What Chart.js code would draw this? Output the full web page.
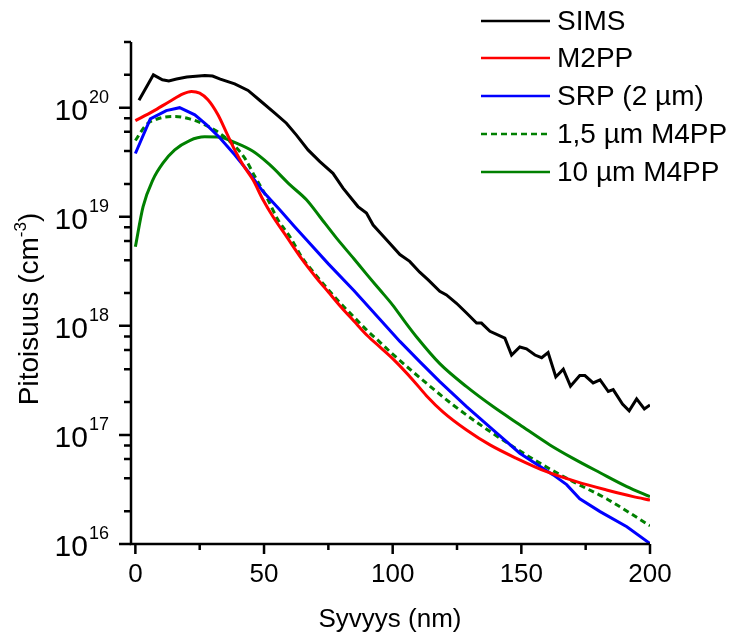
<!DOCTYPE html>
<html>
<head>
<meta charset="utf-8">
<script src="https://cdn.jsdelivr.net/npm/chart.js@4.4.1/dist/chart.umd.min.js"></script>
<style>
  html, body { margin: 0; padding: 0; background: #fff; }
  #wrap { width: 743px; height: 632px; }
</style>
</head>
<body>
<div id="wrap"><canvas id="depthChart" width="743" height="632"></canvas></div>
<script>
// Depth profiles (x = depth in nm, y = concentration in cm^-3)
const simsX = [1.4, 7, 10.5, 13, 16, 20, 27, 30, 33, 38.6, 43.8, 48.3, 54.2, 58.7, 62.6, 67.1, 71.7, 76.8, 80.7, 86.5, 89.8, 92.4, 97.6, 102.8, 106.6, 110.5, 113.8, 118.3, 120.9, 124.8, 128.7, 132.6, 134.5, 137.8, 143.6, 146.2, 149.4, 152, 155.3, 157.9, 160.4, 163.4, 166.3, 169.1, 172.7, 174.7, 177.9, 180.6, 183.8, 185.7, 189.3, 191.9, 194.8, 197.8, 200];
const simsY = [1.17e20, 2.0e20, 1.8e20, 1.76e20, 1.83e20, 1.91e20, 1.97e20, 1.95e20, 1.83e20, 1.65e20, 1.44e20, 1.17e20, 8.9e19, 7.2e19, 5.6e19, 4.1e19, 3.2e19, 2.5e19, 1.83e19, 1.24e19, 1.08e19, 8.4e18, 6.15e18, 4.5e18, 3.9e18, 3.1e18, 2.64e18, 2.07e18, 1.92e18, 1.61e18, 1.31e18, 1.06e18, 1.06e18, 8.9e17, 7.7e17, 5.4e17, 6.4e17, 6.15e17, 5.4e17, 5.1e17, 5.7e17, 3.4e17, 4.0e17, 2.8e17, 3.5e17, 3.5e17, 3.0e17, 3.2e17, 2.5e17, 2.6e17, 1.92e17, 1.66e17, 2.14e17, 1.73e17, 1.88e17];

const m2ppX = [0, 6.8, 13.3, 18.5, 21.8, 25, 28.2, 32.1, 35.4, 38.6, 41.8, 45.7, 49.6, 53.5, 58.7, 65, 70, 75, 80, 85, 90, 95, 100, 108, 113.1, 119.6, 128.7, 137.8, 148.1, 159.8, 171.4, 183.1, 193.5, 200];
const m2ppY = [7.6e19, 9.25e19, 1.14e20, 1.34e20, 1.41e20, 1.36e20, 1.18e20, 8.6e19, 5.9e19, 4.1e19, 3.0e19, 2.18e19, 1.43e19, 1.0e19, 6.6e18, 4.0e18, 2.82e18, 2.04e18, 1.48e18, 1.1e18, 8.2e17, 6.4e17, 5.0e17, 3.16e17, 2.29e17, 1.62e17, 1.11e17, 8.1e16, 6.1e16, 4.6e16, 3.73e16, 3.13e16, 2.72e16, 2.53e16];

const srpX = [0, 5.8, 12, 17.2, 23.1, 27.6, 32.8, 38.6, 44.4, 49.6, 56.1, 61.9, 66.5, 75, 85, 95, 102.8, 110.5, 118.3, 128.7, 139, 149.4, 162.4, 167.6, 172.7, 180.6, 191, 200];
const srpY = [3.8e19, 7.9e19, 9.4e19, 1.0e20, 8.6e19, 7.0e19, 5.3e19, 3.7e19, 2.5e19, 1.7e19, 1.16e19, 8.1e18, 6.15e18, 3.7e18, 2.1e18, 1.15e18, 7.2e17, 4.7e17, 3.08e17, 1.82e17, 1.11e17, 6.8e16, 4.3e16, 3.5e16, 2.6e16, 1.98e16, 1.44e16, 1.01e16];

const m4pp15X = [0, 4.3, 9.4, 15.3, 21.1, 26.9, 31.5, 38, 42.5, 46.4, 50.9, 55.4, 60, 65, 70, 75, 80, 85, 90, 95, 100, 113.1, 123.5, 135.1, 146.8, 158.4, 170.1, 183.1, 200];
const m4pp15Y = [5.0e19, 7.0e19, 8.0e19, 8.3e19, 7.9e19, 7.0e19, 6.1e19, 4.6e19, 3.45e19, 2.35e19, 1.53e19, 9.4e18, 6.6e18, 4.15e18, 2.95e18, 2.14e18, 1.58e18, 1.2e18, 9.1e17, 7.1e17, 5.5e17, 2.98e17, 1.88e17, 1.19e17, 7.8e16, 5.3e16, 3.73e16, 2.6e16, 1.47e16];

const m4pp10X = [0, 3, 6.8, 10.7, 15.3, 21.1, 26.9, 32.8, 38.6, 45.7, 52.2, 60, 66.5, 71.7, 78.1, 85, 90, 95, 100, 105, 109.3, 118.3, 128.7, 139, 149.4, 161.1, 170.1, 180.6, 191, 200];
const m4pp10Y = [5.3e18, 1.24e19, 2.18e19, 3.1e19, 4.1e19, 5.0e19, 5.4e19, 5.35e19, 4.8e19, 3.98e19, 3.0e19, 1.97e19, 1.43e19, 1.0e19, 6.4e18, 4.1e18, 2.95e18, 2.14e18, 1.55e18, 1.07e18, 7.9e17, 4.5e17, 2.77e17, 1.82e17, 1.24e17, 8.1e16, 6.1e16, 4.5e16, 3.36e16, 2.72e16];

const seriesLabels = ['SIMS', 'M2PP', 'SRP (2 µm)', '1,5 µm M4PP', '10 µm M4PP'];

// Axis ticks
const xMajorTicks = [0, 50, 100, 150, 200];
const xMinorTicks = [25, 75, 125, 175];
const yExponents = [16, 17, 18, 19, 20];
const yMinorFactors = [2, 4, 6, 8];

const FONT = "'Liberation Sans', Arial, sans-serif";

function toPoints(xs, ys) {
    return xs.map((x, i) => ({ x: x, y: ys[i] }));
}

// Axes, ticks, labels and legend drawn in Origin style
const axesPlugin = {
    id: 'originAxes',
    afterDatasetsDraw(chart) {
        const ctx = chart.ctx;
        const area = chart.chartArea;
        const xs = chart.scales.x;
        const ys = chart.scales.y;

        ctx.save();
        ctx.strokeStyle = '#000';
        ctx.fillStyle = '#000';
        ctx.lineWidth = 2.5;
        ctx.lineCap = 'butt';

        // axis lines
        ctx.beginPath();
        ctx.moveTo(area.left, area.top);
        ctx.lineTo(area.left, area.bottom);
        ctx.lineTo(area.right, area.bottom);
        ctx.stroke();

        // x ticks
        ctx.beginPath();
        xMajorTicks.forEach(v => {
            const px = xs.getPixelForValue(v);
            ctx.moveTo(px, area.bottom);
            ctx.lineTo(px, area.bottom + 10);
        });
        xMinorTicks.forEach(v => {
            const px = xs.getPixelForValue(v);
            ctx.moveTo(px, area.bottom);
            ctx.lineTo(px, area.bottom + 6);
        });
        // y ticks
        yExponents.forEach(e => {
            const py = ys.getPixelForValue(Math.pow(10, e));
            ctx.moveTo(area.left, py);
            ctx.lineTo(area.left - 12, py);
            yMinorFactors.forEach(f => {
                const v = f * Math.pow(10, e);
                if (v > ys.max) return;
                const pm = ys.getPixelForValue(v);
                ctx.moveTo(area.left, pm);
                ctx.lineTo(area.left - 7, pm);
            });
        });
        ctx.stroke();

        // x tick labels
        ctx.font = '26px ' + FONT;
        ctx.textAlign = 'center';
        ctx.textBaseline = 'alphabetic';
        xMajorTicks.forEach(v => {
            ctx.fillText(String(v), xs.getPixelForValue(v), 582);
        });

        // y tick labels: 10 with superscript exponent
        yExponents.forEach(e => {
            const py = ys.getPixelForValue(Math.pow(10, e));
            ctx.textAlign = 'right';
            ctx.font = '18px ' + FONT;
            const expRight = 109;
            ctx.fillText(String(e), expRight, py - 5);
            const expW = ctx.measureText(String(e)).width;
            ctx.font = '30px ' + FONT;
            ctx.fillText('10', expRight - expW - 1, py + 12);
        });

        // x title
        ctx.font = '26px ' + FONT;
        ctx.textAlign = 'center';
        ctx.fillText('Syvyys (nm)', 390, 627);

        // y title (rotated), with superscript -3
        ctx.save();
        ctx.translate(38, 309);
        ctx.rotate(-Math.PI / 2);
        ctx.textAlign = 'left';
        ctx.font = '28px ' + FONT;
        const partA = 'Pitoisuus (cm';
        const wA = ctx.measureText(partA).width;
        ctx.font = '17px ' + FONT;
        const wSup = ctx.measureText('-3').width;
        ctx.font = '28px ' + FONT;
        const wB = ctx.measureText(')').width;
        const x0 = -(wA + wSup + wB) / 2;
        ctx.fillText(partA, x0, 0);
        ctx.font = '17px ' + FONT;
        ctx.fillText('-3', x0 + wA, -12);
        ctx.font = '28px ' + FONT;
        ctx.fillText(')', x0 + wA + wSup, 0);
        ctx.restore();

        // legend
        const rowY = [21, 58, 96, 134, 172];
        chart.data.datasets.forEach((ds, i) => {
            const y = rowY[i];
            ctx.save();
            ctx.strokeStyle = ds.borderColor;
            ctx.lineWidth = 2.5;
            ctx.setLineDash(ds.borderDash || []);
            ctx.beginPath();
            ctx.moveTo(481, y);
            ctx.lineTo(550, y);
            ctx.stroke();
            ctx.restore();
            ctx.font = '28px ' + FONT;
            ctx.textAlign = 'left';
            ctx.textBaseline = 'middle';
            ctx.fillText(ds.label, 557, y + 1);
        });

        ctx.restore();
    }
};

function initChart() {
    const ctx = document.getElementById('depthChart').getContext('2d');

    const data = {
        datasets: [{
            label: seriesLabels[0],
            data: toPoints(simsX, simsY),
            borderColor: '#000000',
            borderWidth: 3,
            tension: 0
        }, {
            label: seriesLabels[1],
            data: toPoints(m2ppX, m2ppY),
            borderColor: '#ff0000',
            borderWidth: 3,
            cubicInterpolationMode: 'monotone'
        }, {
            label: seriesLabels[2],
            data: toPoints(srpX, srpY),
            borderColor: '#0000ff',
            borderWidth: 3,
            tension: 0
        }, {
            label: seriesLabels[3],
            data: toPoints(m4pp15X, m4pp15Y),
            borderColor: '#008000',
            borderWidth: 3,
            borderDash: [6, 4],
            cubicInterpolationMode: 'monotone'
        }, {
            label: seriesLabels[4],
            data: toPoints(m4pp10X, m4pp10Y),
            borderColor: '#008000',
            borderWidth: 3,
            cubicInterpolationMode: 'monotone'
        }]
    };

    const config = {
        type: 'line',
        data: data,
        options: {
            responsive: false,
            animation: false,
            devicePixelRatio: 1,
            layout: {
                padding: { left: 131, right: 93, top: 42, bottom: 88 }
            },
            elements: {
                point: { radius: 0 },
                line: { fill: false }
            },
            plugins: {
                legend: { display: false },
                tooltip: { enabled: false }
            },
            scales: {
                x: {
                    type: 'linear',
                    min: -1.7,
                    max: 200,
                    display: false
                },
                y: {
                    type: 'logarithmic',
                    min: 1e16,
                    max: 4e20,
                    display: false
                }
            }
        },
        plugins: [axesPlugin]
    };

    new Chart(ctx, config);
}

document.addEventListener('DOMContentLoaded', initChart);
</script>
</body>
</html>
